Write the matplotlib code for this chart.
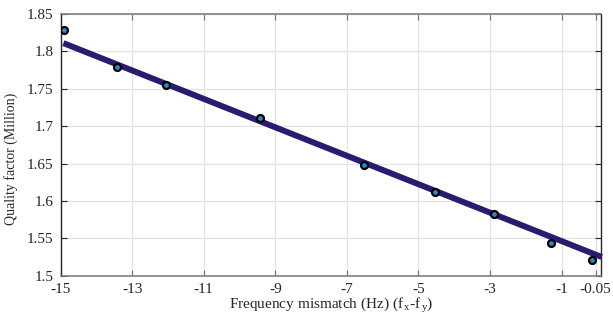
import matplotlib
matplotlib.use('Agg')
import matplotlib.pyplot as plt

# measured points (Hz mismatch vs Q in millions)
mismatch = [-14.9, -13.42, -12.05, -9.42, -6.52, -4.55, -2.89, -1.31, -0.15]
q_factor = [1.828, 1.7795, 1.7546, 1.7113, 1.648, 1.612, 1.5825, 1.5433, 1.5214]

# linear fit end points
fit_x = [-14.92, 0.12]
fit_y = [1.811, 1.525]

x_ticks = [-15, -13, -11, -9, -7, -5, -3, -1, -0.05]
x_labels = ['-15', '-13', '-11', '-9', '-7', '-5', '-3', '-1', '-0.05']
y_ticks = [1.5, 1.55, 1.6, 1.65, 1.7, 1.75, 1.8, 1.85]
y_labels = ['1.5', '1.55', '1.6', '1.65', '1.7', '1.75', '1.8', '1.85']

plt.rcParams['font.family'] = ['Liberation Serif', 'DejaVu Serif']
plt.rcParams['font.size'] = 11
plt.rcParams['mathtext.fontset'] = 'custom'
plt.rcParams['mathtext.rm'] = 'Liberation Serif'
plt.rcParams['mathtext.it'] = 'Liberation Serif'

fig = plt.figure(figsize=(6.13, 3.24), dpi=100)
ax = fig.add_axes([0.0987, 0.149, 0.8817, 0.808])

ax.plot(fit_x, fit_y, color='#2b1b6f', linewidth=4.3, solid_capstyle='butt',
        clip_on=False, zorder=3)
ax.plot(mismatch, q_factor, linestyle='none', marker='o', markersize=5,
        markerfacecolor='#1f8fd6', markeredgecolor='black', markeredgewidth=1.6,
        zorder=4)

ax.set_xlim(-15, 0.1)
ax.set_ylim(1.5, 1.85)
ax.set_xticks(x_ticks, labels=x_labels)
ax.set_yticks(y_ticks, labels=y_labels)
ax.grid(True, color='#e3e3e3', linewidth=0.9)
ax.set_axisbelow(True)

ax.tick_params(axis='both', direction='in', length=4, width=0.8, pad=5,
               top=True, right=True, labelsize=11, labelcolor='#262626')
ax.tick_params(axis='x', colors='#707070', labelcolor='#262626')
ax.tick_params(axis='y', colors='#262626')
for side in ['top', 'bottom']:
    ax.spines[side].set_color('#808080')
    ax.spines[side].set_linewidth(1.2)
for side in ['left', 'right']:
    ax.spines[side].set_color('#262626')
    ax.spines[side].set_linewidth(1.0)

ax.set_xlabel(r'Frequency mismatch (Hz) (f$_{\,\mathrm{x}}$-f$_{\,\mathrm{y}}$)', labelpad=0,
              color='#262626')
ax.set_ylabel('Quality factor (Million)', fontsize=10, color='#262626')
ax.yaxis.set_label_coords(-0.078, 0.445)

fig.savefig('out.png', dpi=100)
